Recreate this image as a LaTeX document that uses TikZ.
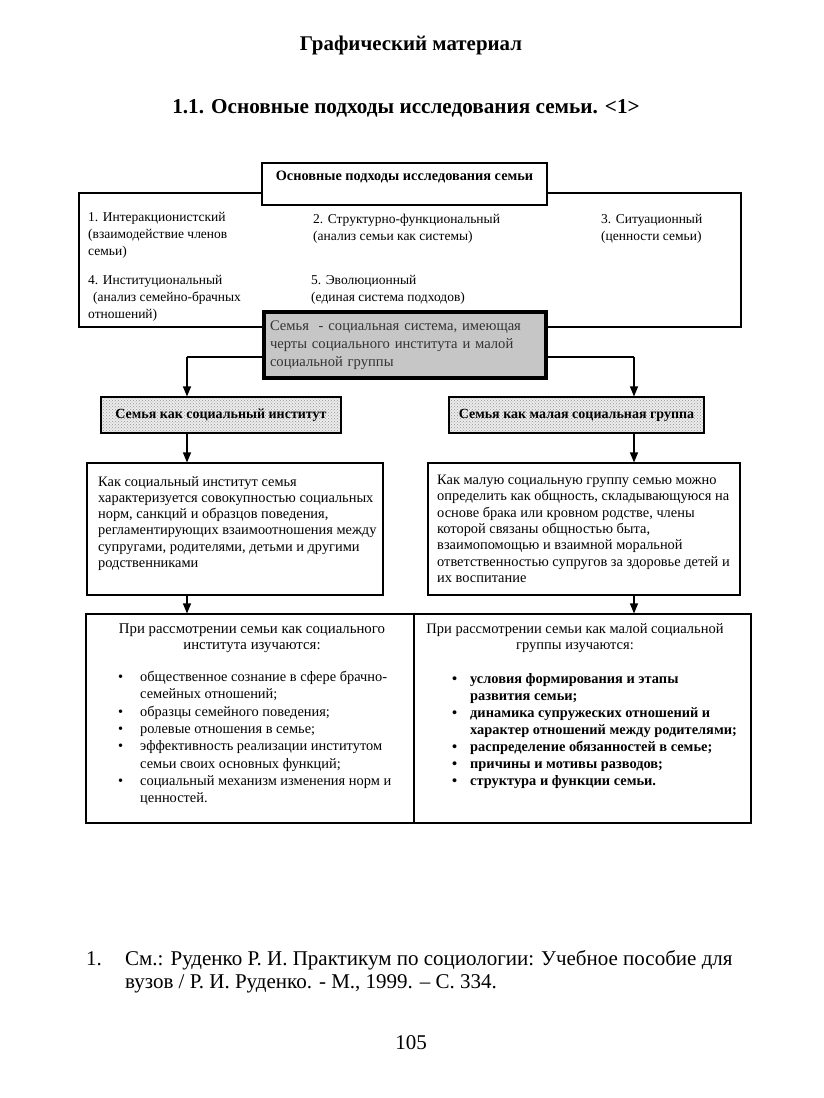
\documentclass[tikz,border=0pt]{standalone}
\usepackage{fontspec}
\setmainfont{Liberation Serif}
\usetikzlibrary{patterns,arrows.meta}
\begin{document}
\begin{tikzpicture}[x=1pt,y=-1pt,
  every node/.style={inner sep=0pt},
  dfont/.style={font=\fontsize{14.4}{16.3}\selectfont},
  ifont/.style={font=\fontsize{13.5}{17}\selectfont},
  txt/.style={dfont, align=left, anchor=north west},
  box/.style={draw, line width=1.1pt},
  arr/.style={line width=1.1pt, -{Triangle[length=10pt,width=8pt]}},
  dotbox/.style={box, preaction={fill=gray!15}, pattern=crosshatch dots, pattern color=gray!85,
     minimum height=36pt, font=\fontsize{14}{17}\selectfont\bfseries},
]
\useasboundingbox (0,0) rectangle (823,1098);

% titles
\node[font=\fontsize{20.9}{23}\selectfont\bfseries] (title) at (411,45) {Графический материал};
\node[font=\fontsize{21.2}{23}\selectfont\bfseries] (sub) at (406,108) {1.1. Основные подходы исследования семьи. <1>};

% big frame with approaches
\node[box, minimum width=662pt, minimum height=134pt] (big) at (410,260) {};
\node[box, fill=white, minimum width=285pt, text height=12pt, text depth=20pt, inner ysep=5pt,
      font=\fontsize{14.3}{16}\selectfont\bfseries] (top) at (404.5,184) {Основные подходы исследования семьи};

\node[txt, ifont] (a1) at (88,212) {1. Интеракционистский\\(взаимодействие членов\\семьи)};
\node[txt, ifont] (a2) at (313,214) {2. Структурно-функциональный\\(анализ семьи как системы)};
\node[txt, ifont] (a3) at (601,214) {3. Ситуационный\\(ценности семьи)};
\node[txt, ifont] (a4) at (88,275) {4. Институциональный\\\hspace*{5pt}(анализ семейно-брачных\\отношений)};
\node[txt, ifont] (a5) at (311,275) {5. Эволюционный\\(единая система подходов)};

% splitting connector behind the core box
\coordinate (jl) at (187,357);
\coordinate (jr) at (634,357);
\draw[line width=1.1pt] (jl) -- (jr);

\node[draw, line width=3.2pt, fill=gray!45, minimum width=282pt, minimum height=66pt,
      text width=270pt, inner xsep=6pt, align=left, font=\fontsize{14.6}{18}\selectfont, text=black!80]
      (core) at (405,345) {Семья \ - социальная система, имеющая\\черты социального института и малой\\социальной группы};

% two aspects
\node[dotbox, minimum width=240pt] (inst) at (221,415) {Семья как социальный институт};
\node[dotbox, minimum width=255pt] (grp) at (576.5,415) {Семья как малая социальная группа};

\draw[arr] (jl) -- (inst.north -| jl);
\draw[arr] (jr) -- (grp.north -| jr);

% description boxes
\node[box, minimum width=296pt, minimum height=132pt] (ldesc) at (235,529) {};
\node[box, minimum width=312pt, minimum height=132pt] (rdesc) at (584,529) {};
\node[txt] (ldesctxt) at (98,476) {Как социальный институт семья\\характеризуется совокупностью социальных\\норм, санкций и образцов поведения,\\регламентирующих взаимоотношения между\\супругами, родителями, детьми и другими\\родственниками};
\node[txt] (rdesctxt) at (437,475) {Как малую социальную группу семью можно\\определить как общность, складывающуюся на\\основе брака или кровном родстве, члены\\которой связаны общностью быта,\\взаимопомощью и взаимной моральной\\ответственностью супругов за здоровье детей и\\их воспитание};

\draw[arr] (inst.south -| jl) -- (ldesc.north -| jl);
\draw[arr] (grp.south -| jr) -- (rdesc.north -| jr);

% study boxes
\node[box, minimum width=328pt, minimum height=209pt] (lstudy) at (250,718.5) {};
\node[box, minimum width=337pt, minimum height=209pt] (rstudy) at (582.5,718.5) {};

\draw[arr] (ldesc.south -| jl) -- (lstudy.north -| jl);
\draw[arr] (rdesc.south -| jr) -- (rstudy.north -| jr);

\node[font=\fontsize{14.8}{16.3}\selectfont, align=center] (lhead) at (252,638) {При рассмотрении семьи как социального\\института изучаются:};
\node[font=\fontsize{14.5}{16.3}\selectfont, align=center] (rhead) at (575,638) {При рассмотрении семьи как малой социальной\\группы изучаются:};

\node[txt, font=\fontsize{14.4}{17.3}\selectfont] (llist) at (118,671) {%
\makebox[22pt][l]{•}общественное сознание в сфере брачно-\\
\hspace*{22pt}семейных отношений;\\
\makebox[22pt][l]{•}образцы семейного поведения;\\
\makebox[22pt][l]{•}ролевые отношения в семье;\\
\makebox[22pt][l]{•}эффективность реализации институтом\\
\hspace*{22pt}семьи своих основных функций;\\
\makebox[22pt][l]{•}социальный механизм изменения норм и\\
\hspace*{22pt}ценностей.};
\node[txt, font=\fontsize{14.4}{17}\selectfont\bfseries] (rlist) at (452,673) {%
\makebox[18pt][l]{•}условия формирования и этапы\\
\hspace*{18pt}развития семьи;\\
\makebox[18pt][l]{•}динамика супружеских отношений и\\
\hspace*{18pt}характер отношений между родителями;\\
\makebox[18pt][l]{•}распределение обязанностей в семье;\\
\makebox[18pt][l]{•}причины и мотивы разводов;\\
\makebox[18pt][l]{•}структура и функции семьи.};

% footnote and page number
\node[anchor=north west, align=left, font=\fontsize{21}{23}\selectfont] (fn) at (86,950) {%
\makebox[39pt][l]{1.}См.: Руденко Р. И. Практикум по социологии: Учебное пособие для\\
\hspace*{39pt}вузов / Р. И. Руденко. - М., 1999. – С. 334.};
\node[font=\fontsize{21}{23}\selectfont] (page) at (411,1043) {105};
\end{tikzpicture}
\end{document}
